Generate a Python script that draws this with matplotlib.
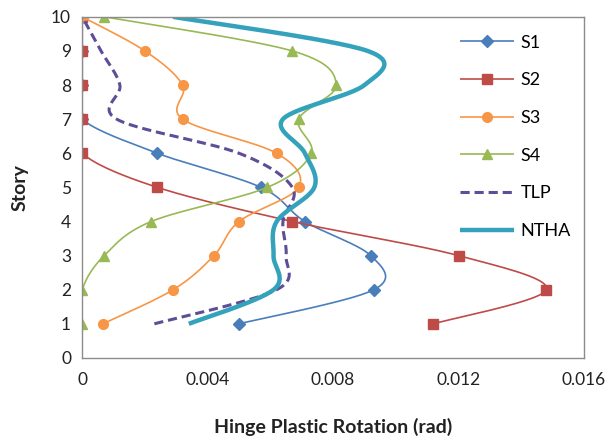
import numpy as np
import matplotlib
matplotlib.use("Agg")
import matplotlib.pyplot as plt

plt.rcParams['font.family'] = ['Lato', 'DejaVu Sans']

# data --------------------------------------------------------------- #
story = [1, 2, 3, 4, 5, 6, 7, 8, 9, 10]
s1 = [0.0050, 0.0093, 0.0092, 0.0071, 0.0057, 0.0024, 0.0, 0.0, 0.0, 0.0]
s2 = [0.0112, 0.0148, 0.0120, 0.0067, 0.0024, 0.0, 0.0, 0.0, 0.0, 0.0]
s3 = [0.00066, 0.0029, 0.0042, 0.0050, 0.0069, 0.0062, 0.0032, 0.0032, 0.0020, 0.0]
s4 = [0.0, 0.0, 0.0007, 0.0022, 0.0059, 0.0073, 0.0069, 0.0081, 0.0067, 0.0007]
tlp = [0.0023, 0.0062, 0.0065, 0.0064, 0.0067, 0.0050, 0.0011, 0.0012, 0.0006, 0.0]
ntha = [0.0034, 0.0061, 0.0061, 0.0062, 0.0074, 0.0071, 0.0064, 0.0090, 0.0091, 0.0029]

x_ticks = [0, 0.004, 0.008, 0.012, 0.016]
x_tick_labels = ['0', '0.004', '0.008', '0.012', '0.016']


# excel style smoothed line (catmull-rom bezier) --------------------- #
def smooth(xs, ys, n=30):
    p = np.column_stack([xs, ys]).astype(float)
    p = np.vstack([p[0], p, p[-1]])
    out = []
    t = np.linspace(0, 1, n, endpoint=False)[:, None]
    for i in range(1, len(p) - 2):
        p0, p3 = p[i], p[i + 1]
        c1 = p0 + (p[i + 1] - p[i - 1]) / 6
        c2 = p3 - (p[i + 2] - p[i]) / 6
        seg = (1 - t) ** 3 * p0 + 3 * (1 - t) ** 2 * t * c1 + 3 * (1 - t) * t ** 2 * c2 + t ** 3 * p3
        out.append(seg)
    out.append(p[-2][None, :])
    out = np.vstack(out)
    marks = list(range(0, len(out), n))
    return out[:, 0], out[:, 1], marks


fig = plt.figure(figsize=(6.09, 4.43), dpi=100)
ax = fig.add_axes([0.135, 0.192, 0.824, 0.770])

series = [
    ('S1', s1, '#4A7EBB', 'D', '-', 1.2, 6),
    ('S2', s2, '#BE4B48', 's', '-', 1.2, 6.5),
    ('S3', s3, '#F79646', 'o', '-', 1.2, 7),
    ('S4', s4, '#98B954', '^', '-', 1.2, 6.5),
    ('TLP', tlp, '#5E4D97', None, (0, (3, 1.6)), 2.2, 0),
    ('NTHA', ntha, '#35A2BC', None, '-', 3.2, 0),
]

for name, vals, col, mk, ls, lw, ms in series:
    xs, ys, marks = smooth(vals, story)
    ax.plot(xs, ys, color=col, lw=lw, ls=ls, marker=mk, markevery=marks,
            ms=ms, mec=col, mfc=col, label=name, solid_capstyle='butt')

ax.set_xlim(0, 0.016)
ax.set_ylim(0, 10)
ax.set_xticks(x_ticks)
ax.set_xticklabels(x_tick_labels)
ax.set_yticks(range(0, 11))
ax.tick_params(length=0, labelsize=12.5, colors='#222222', pad=10)
ax.tick_params(axis='y', pad=8)
for s in ax.spines.values():
    s.set_color('#8c8c8c')
    s.set_linewidth(1.0)

ax.set_xlabel('Hinge Plastic Rotation (rad)', fontsize=14, fontweight='bold',
              color='#222222', labelpad=22)
ax.set_ylabel('Story', fontsize=14, fontweight='bold', color='#222222', labelpad=16)

ax.legend(loc='upper left', bbox_to_anchor=(0.72, 0.995), frameon=False,
          fontsize=13, labelspacing=1.2, handlelength=3.0, handletextpad=0.35,
          numpoints=1)

fig.savefig('out.png', dpi=100)
